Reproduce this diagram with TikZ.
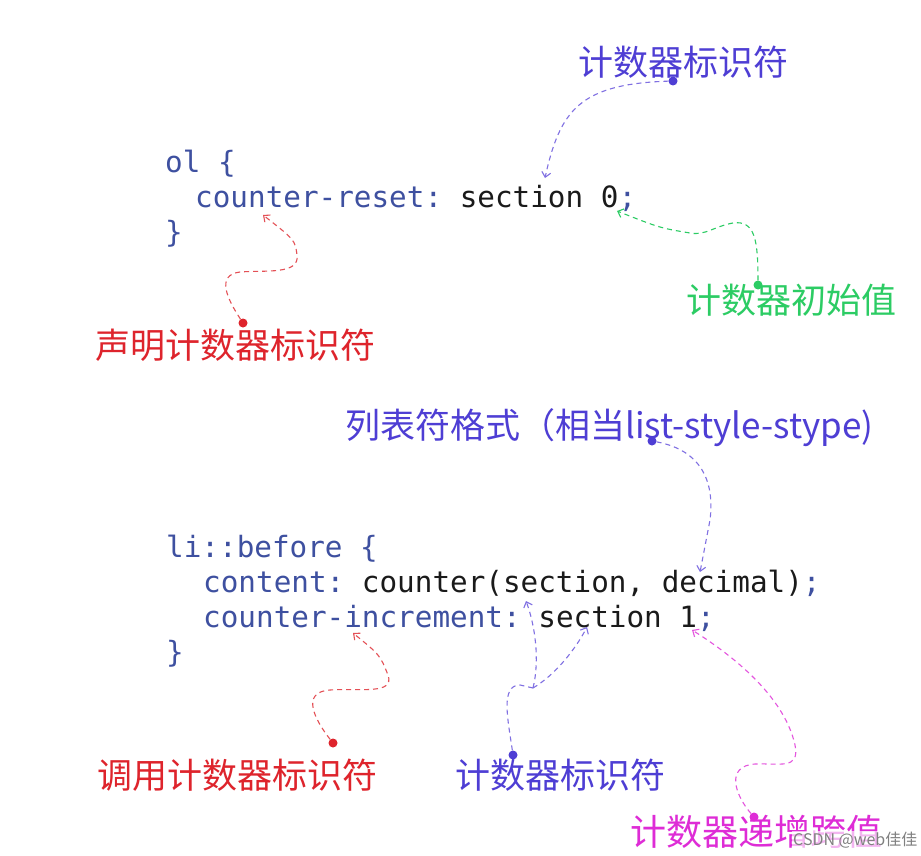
\documentclass[tikz,border=0pt]{standalone}
\usepackage{xcolor}
\usepackage{fontspec}
\setmonofont{DejaVu Sans Mono}
\newfontfamily\cjk{Noto Sans CJK SC}
\usetikzlibrary{positioning,arrows.meta}
\definecolor{codeblue}{RGB}{62,80,160}
\definecolor{codeink}{RGB}{26,26,26}
\definecolor{penblue}{RGB}{78,62,212}
\definecolor{dashblue}{RGB}{128,112,226}
\definecolor{pengreen}{RGB}{44,204,100}
\definecolor{penred}{RGB}{222,36,44}
\definecolor{penpink}{RGB}{222,44,214}
\newcommand{\kw}[1]{\textcolor{codeblue}{#1}}

\begin{document}
\begin{tikzpicture}[x=1pt, y=-1pt,
  code/.style={anchor=base west, inner sep=0pt, text=codeink,
    font=\fontsize{29.3}{35}\selectfont\ttfamily},
  pen/.style={anchor=west, inner sep=0pt, font=\fontsize{35}{38}\selectfont\cjk},
  pin/.style={circle, fill=#1, inner sep=0pt, minimum size=9pt},
  hint/.style={dashed, dash pattern=on 5pt off 4pt, line width=1.1pt,
    -{Straight Barb[length=5pt,width=9pt]}}]
  \fill[white] (0,0) rectangle (921,856);
  \useasboundingbox (0,0) rectangle (921,856);

  \node[code] (ol-open) at (165,172) {\kw{ol \{}};
  \node[code] (reset-line) at (195,207) {\kw{counter-reset:} section 0\kw{;}};
  \node[code] (ol-close) at (165,242) {\kw{\}}};

  \node[code] (li-open) at (166,557) {\kw{li::before \{}};
  \node[code] (content-line) at (203,592) {\kw{content:} counter(section, decimal)\kw{;}};
  \node[code] (incr-line) at (203,627) {\kw{counter-increment:} section 1\kw{;}};
  \node[code] (li-close) at (166,662) {\kw{\}}};

  \node[pen, text=penblue] (lbl-id-top) at (578,62) {计数器标识符};
  \node[pen, text=pengreen] (lbl-init) at (686,300) {计数器初始值};
  \node[pen, text=penred] (lbl-decl) at (95,345) {声明计数器标识符};
  \node[pen, text=penblue] (lbl-style) at (345,428) {列表符格式（相当list-style-stype)};
  \node[pen, text=penred] (lbl-call) at (97,775) {调用计数器标识符};
  \node[pen, text=penblue] (lbl-id-bot) at (455,775) {计数器标识符};
  \node[pen, text=penpink, font=\fontsize{36}{38}\selectfont\cjk] (lbl-step) at (630,832) {计数器递增跨值};

  \node[pin=penblue] (dot-id-top) at (673,81) {};
  \node[pin=pengreen] (dot-init) at (758,285) {};
  \node[pin=penred] (dot-decl) at (243,323) {};
  \node[pin=penblue] (dot-style) at (652,441) {};
  \node[pin=penred] (dot-call) at (333,743) {};
  \node[pin=penblue] (dot-id-bot) at (513,755) {};
  \node[pin=penpink] (dot-step) at (754,817) {};

  \coordinate (tgt-id-top) at (545,178);
  \coordinate (tgt-init) at (617,211);
  \coordinate (tgt-decl) at (263,215);
  \coordinate (tgt-style) at (700,572);
  \coordinate (tgt-call) at (353,633);
  \coordinate (fork) at (533,688);
  \coordinate (tgt-arg) at (526,601);
  \coordinate (tgt-name) at (587,627);
  \coordinate (tgt-step) at (692,630);

  \draw[hint, dashblue] (dot-id-top) .. controls (580,84) and (560,110) .. (tgt-id-top);
  \draw[hint, pengreen] (dot-init) .. controls (758,240) and (755,220) .. (733,223)
    .. controls (715,226) and (705,236) .. (690,233) .. controls (660,228) .. (tgt-init);
  \draw[hint, penred!80] (dot-decl) .. controls (228,300) and (215,275) .. (240,272)
    .. controls (265,270) and (300,275) .. (297,255) .. controls (295,240) .. (tgt-decl);
  \draw[hint, dashblue] (dot-style) .. controls (700,450) and (715,480) .. (710,520)
    .. controls (706,545) .. (tgt-style);
  \draw[hint, penred!80] (dot-call) .. controls (315,720) and (300,692) .. (330,690)
    .. controls (360,688) and (395,695) .. (388,675) .. controls (380,655) .. (tgt-call);
  \draw[dashed, dash pattern=on 5pt off 4pt, line width=1.1pt, dashblue]
    (dot-id-bot) .. controls (508,720) and (500,685) .. (520,685) -- (fork);
  \draw[hint, dashblue] (fork) .. controls (540,660) and (535,625) .. (tgt-arg);
  \draw[hint, dashblue] (fork) .. controls (555,675) and (575,650) .. (tgt-name);
  \draw[hint, penpink!80] (dot-step) .. controls (735,795) and (725,766) .. (755,764)
    .. controls (780,763) and (800,770) .. (795,745) .. controls (785,700) and (740,660) .. (tgt-step);

  \node[anchor=west, inner sep=1pt, text=black!50, fill=white, fill opacity=0.65, text opacity=1,
    font=\fontsize{16}{17}\selectfont\cjk] (mark) at (792,840) {CSDN @web佳佳};
\end{tikzpicture}
\end{document}
